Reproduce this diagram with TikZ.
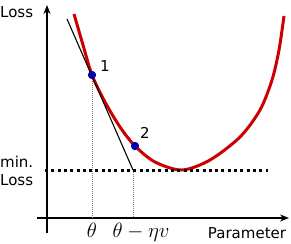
\documentclass[tikz,border=0pt]{standalone}
\usepackage{fontspec}
\setmainfont{DejaVu Sans}
\usepackage{tikz}
\usetikzlibrary{arrows.meta}
\definecolor{curvered}{RGB}{204,0,0}
\definecolor{ptblue}{RGB}{0,0,175}

\begin{document}
\begin{tikzpicture}[
    x=1pt, y=-1pt,
    lbl/.style={inner sep=0pt, font=\fontsize{15}{18}\selectfont},
    mlbl/.style={inner sep=0pt, font=\fontsize{20}{24}\selectfont},
    axis/.style={line width=2pt, -{Stealth[length=9pt, width=7pt]}},
    losscurve/.style={line width=3pt, curvered},
    pt/.style={circle, fill=ptblue, inner sep=0pt, minimum size=8pt},
    guide/.style={gray, line width=0.6pt, dash pattern=on 1pt off 1pt},
    tangent/.style={line width=1.1pt},
    minline/.style={line width=3pt, dash pattern=on 3pt off 3.3pt}
]
    \useasboundingbox (0,0) rectangle (291,243);

    \coordinate (ybot) at (47,233);
    \coordinate (ytop) at (47,5);
    \coordinate (xleft) at (37,218);
    \coordinate (xright) at (289,218);
    \draw[axis] (ybot) -- (ytop);
    \draw[axis] (xleft) -- (xright);

    \node[pt] (p1) at (92,75) {};
    \node[pt] (p2) at (135,146) {};
    \coordinate (g1) at (92,218);
    \coordinate (tA) at (67,19);
    \coordinate (tB) at (133,170);
    \coordinate (g2) at (133,218);
    \draw[guide] (p1) -- (g1);
    \draw[guide] (tB) -- (g2);

    \draw[losscurve] plot[smooth] coordinates {(74,14) (83,45) (92,75) (105,102) (120,127) (135,146) (155,162) (182,170) (210,160) (240,137) (260,110) (272,80) (279,50) (284,16)};

    \coordinate (mA) at (45,170);
    \coordinate (mB) at (268,170);
    \draw[minline] (mA) -- (mB);
    \draw[tangent] (tA) -- (tB);

    \node[pt] at (p1) {};
    \node[pt] at (p2) {};

    \node[lbl, anchor=base west] (ylab) at (0,18) {Loss};
    \node[lbl, anchor=base] (l1) at (105,72) {1};
    \node[lbl, anchor=base] (l2) at (145,138) {2};
    \node[lbl, anchor=base west] (minlab) at (0,167) {min.};
    \node[lbl, anchor=base west] (minlab2) at (0,185) {Loss};
    \node[lbl, anchor=base] (xlab) at (247,238) {Parameter};
    \node[mlbl, anchor=base] (th) at (92,237) {$\theta$};
    \node[mlbl, anchor=base] (thstep) at (141,237) {$\theta-\eta v$};
\end{tikzpicture}
\end{document}
